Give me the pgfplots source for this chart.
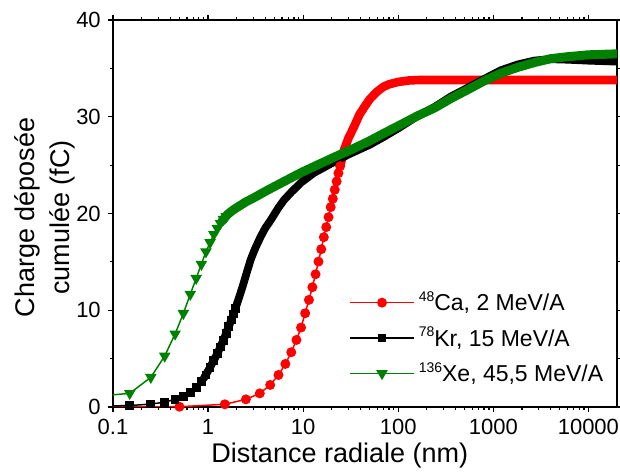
\documentclass[border=0pt]{standalone}
\usepackage{fontspec}
\setmainfont{Liberation Sans}
\usepackage{pgfplots}
\pgfplotsset{compat=1.18}
\definecolor{cared}{RGB}{255,0,0}
\definecolor{xegreen}{RGB}{0,128,0}
\newcommand{\sups}[1]{\raisebox{0.42em}{\fontsize{7}{7}\selectfont #1}}
\begin{document}
\begin{tikzpicture}
\useasboundingbox (-56.5pt,-34pt) rectangle (253.5pt,203.5pt);
\begin{axis}[
  at={(0pt,0pt)}, anchor=south west,
  scale only axis, width=252pt, height=193.5pt,
  xmode=log, xmin=0.1, xmax=20000, ymin=0, ymax=40,
  xtick={0.1,1,10,100,1000,10000},
  xticklabels={0.1,1,10,100,1000,10000},
  ytick={0,10,20,30,40}, minor y tick num=1,
  tick align=outside,
  major tick length=2.6pt, minor tick length=1.6pt,
  axis line style={line width=0.75pt},
  every tick/.style={black, line width=0.6pt},
  /pgf/number format/assume math mode=true,
  tick label style={font=\fontsize{11}{13}\selectfont},
  xlabel={Distance radiale (nm)},
  ylabel={Charge déposée\\cumulée (fC)},
  label style={font=\fontsize{13.5}{17.5}\selectfont},
  xlabel style={at={(axis description cs:0.45,-0.125)}, anchor=center},
  ylabel style={at={(axis description cs:-0.136,0.49)}, anchor=center, align=center},
  legend style={draw=none, fill=none, at={(axis description cs:0.468,0.31)}, anchor=north west,
    font=\fontsize{11.5}{13}\selectfont, row sep=2.5pt, inner sep=0pt,
    /tikz/every even column/.append style={column sep=0pt}},
  legend cell align=left,
  legend image code/.code={\draw[mark repeat=2,mark phase=2] plot coordinates {(0pt,0pt) (16pt,0pt) (32pt,0pt)};},
  clip=true,
]
% ---- 48Ca ----
\addplot[cared, line width=0.75pt, mark=*, mark size=2.1pt, mark options={solid}] coordinates {
(0.05,0) (0.5,0.03) (1.5,0.28) (2.5,0.79) (3.5,1.41) (4.5,2.28) (5.5,3.31) (6.5,4.45)
(7.5,5.66) (8.5,6.93) (9.5,8.21) (10.5,9.69) (11.5,11.07) (12.5,12.38) (13.5,13.72)
(14.5,15.03) (15.5,16.31) (16.5,17.55) (17.5,18.59) (18.5,19.62) (19.5,20.66)
(20.5,21.52) (21.5,22.45) (22.5,23.31) (23.5,24.17) (24.5,24.9)
};
\addlegendentry{\sups{48}Ca, 2 MeV/A}
\addplot[cared, line width=4.3pt, line join=round, line cap=round, forget plot] coordinates {
(24.5,24.9) (27,26.6) (30,27.8) (34.4,29.0) (39,30.2) (44,31.0) (50,31.8) (60,32.6)
(70,33.1) (80,33.35) (100,33.6) (130,33.75) (170,33.8) (300,33.8) (1000,33.8)
(5000,33.8) (20000,33.8)
};
% ---- 78Kr ----
\addplot[black, line width=0.75pt, mark=square*, mark size=1.8pt] coordinates {
(0.05,0.05) (0.15,0.15) (0.25,0.3) (0.35,0.5) (0.45,0.8) (0.55,1.1) (0.65,1.5)
(0.75,2.0) (0.85,2.6) (0.95,3.3) (1.05,4.1) (1.15,4.8) (1.25,5.5) (1.35,6.2)
(1.45,6.9) (1.55,7.6) (1.65,8.3) (1.75,9.0) (1.85,9.6) (1.95,10.2)
};
\addlegendentry{\sups{78}Kr, 15 MeV/A}
\addplot[black, line width=3.9pt, line join=round, line cap=round, forget plot] coordinates {
(0.9,2.95) (1.05,4.1) (1.25,5.5) (1.45,6.9) (1.65,8.3) (1.85,9.6) (2.1,11.2) (2.3,12.4)
(2.5,13.6) (2.8,15.2) (3.1,16.3) (3.57,17.6) (4.0,18.5) (4.55,19.3) (5.5,20.6) (6.3,21.4)
(7.5,22.2) (9.5,23.2) (13,24.2) (20,25.2) (30,26.1) (50,27.1) (70,27.9) (100,28.8)
(150,29.9) (240,31.0) (360,32.1) (540,33.0) (800,33.9) (1200,34.8) (1800,35.4)
(2700,35.8) (4000,35.95) (6000,35.9) (10000,35.8) (20000,35.7)
};
% ---- 136Xe ----
\addplot[xegreen, line width=0.75pt, mark=triangle*, mark size=2.6pt, mark options={rotate=180}] coordinates {
(0.05,1.0) (0.15,1.41) (0.25,3.07) (0.35,5.27) (0.45,7.55) (0.55,9.68) (0.65,11.65)
(0.75,13.3) (0.85,14.75) (0.95,16.05) (1.05,17.0) (1.15,17.85) (1.25,18.47) (1.35,18.98)
(1.45,19.4) (1.55,19.7)
};
\addlegendentry{\sups{136}Xe, 45,5 MeV/A}
\addplot[xegreen, line width=4.5pt, line join=round, line cap=round, forget plot] coordinates {
(1.4,19.2) (1.6,19.9) (1.8,20.3) (2.0,20.6) (2.5,21.2) (3,21.6) (4.2,22.4) (6,23.2)
(9.4,24.2) (14,25.0) (21,25.8) (32,26.6) (47.6,27.4) (71,28.3) (107,29.2) (160,30.1)
(240,30.9) (360,31.9) (540,32.8) (800,33.7) (1200,34.5) (1800,35.1) (2700,35.6)
(4000,36.0) (6000,36.2) (10000,36.4) (20000,36.5)
};
\end{axis}
\end{tikzpicture}
\end{document}
